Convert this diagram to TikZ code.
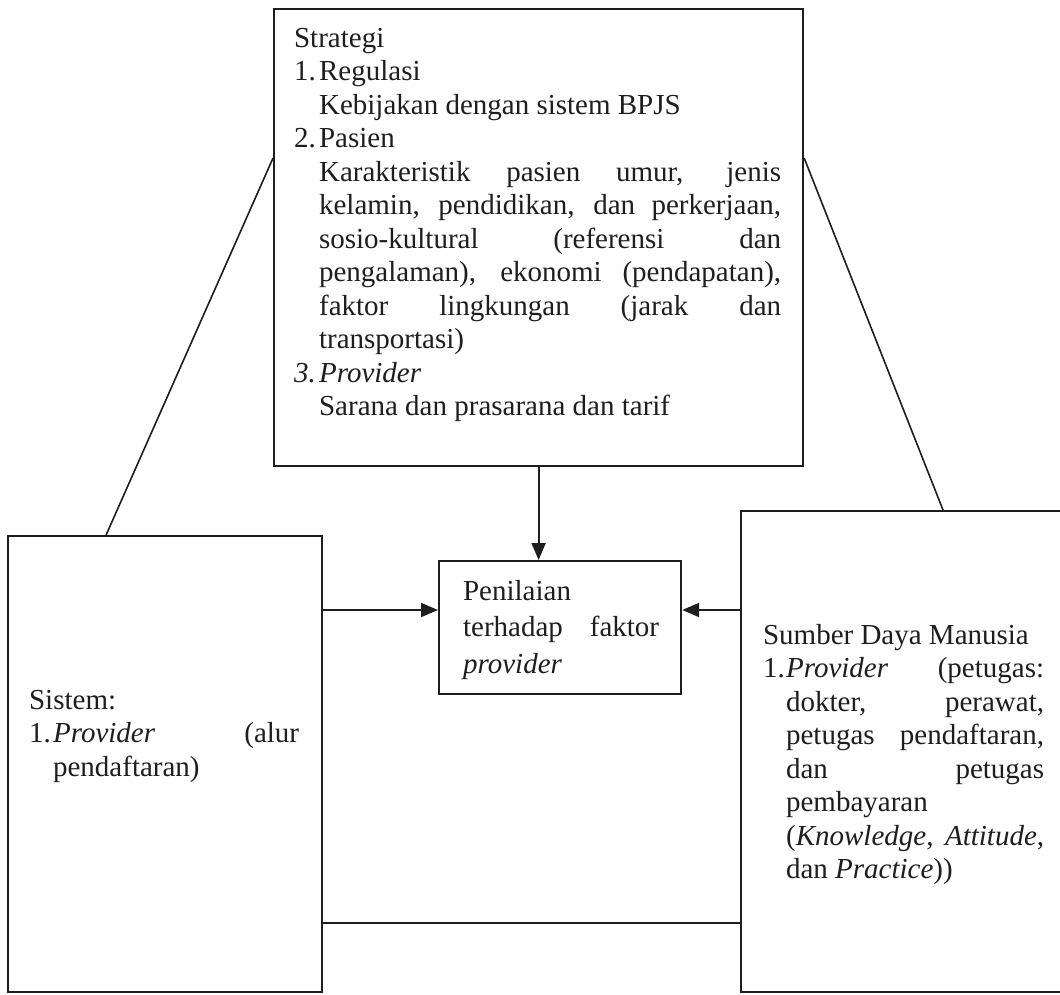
\documentclass[tikz,border=0pt]{standalone}
\usepackage{fontspec}
\setmainfont{Liberation Serif}
\usetikzlibrary{arrows.meta}
\newlength{\indw}
\newcommand{\itm}[2]{\noindent\makebox[\indw][l]{#1}#2\par}
\newcommand{\itmj}[2]{\noindent\makebox[\indw][l]{#1}\makebox[\dimexpr\linewidth-\indw\relax][s]{#2}\par}
\newcommand{\jst}[1]{\noindent\hspace*{\indw}\makebox[\dimexpr\linewidth-\indw\relax][s]{#1}\par}
\newcommand{\lft}[1]{\noindent\hspace*{\indw}#1\par}
\newcommand{\firstln}[2]{\noindent\rule{0pt}{#1}#2\par}
\definecolor{ink}{HTML}{1E1E1E}
\begin{document}
\begin{tikzpicture}[x=1pt,y=-1pt,
  box/.style={draw=ink, text=ink, line width=2.2pt, inner sep=0pt, anchor=north west,
    font=\fontsize{29}{33.5}\selectfont},
  conn/.style={draw=ink, line width=1.9pt},
  diag/.style={draw=ink, line width=1.6pt},
  arr/.style={conn, -{Triangle[length=17pt,width=14pt]}}]
\clip (0,0) rectangle (1060,994);
\fill[white] (0,0) rectangle (1060,994);
% top box
\node[box] (strat) at (273,8) {\hspace*{20pt}\parbox[c][457pt][t]{487pt}{\setlength{\indw}{25pt}%
\firstln{38pt}{Strategi}%
\itm{1.}{Regulasi}%
\lft{Kebijakan dengan sistem BPJS}%
\itm{2.}{Pasien}%
\jst{Karakteristik pasien umur, jenis}%
\jst{kelamin, pendidikan, dan perkerjaan,}%
\jst{sosio-kultural (referensi dan}%
\jst{pengalaman), ekonomi (pendapatan),}%
\jst{faktor lingkungan (jarak dan}%
\lft{transportasi)}%
\itm{\textit{3.}}{\textit{Provider}}%
\lft{Sarana dan prasarana dan tarif}}\hspace*{22pt}};
% centre box
\node[box] (pen) at (438,560) {\hspace*{24pt}\parbox[c][133pt][t]{196pt}{\fontsize{29}{36.5}\selectfont\setlength{\indw}{0pt}%
\firstln{39pt}{Penilaian}%
\jst{terhadap faktor}%
\lft{\textit{provider}}}\hspace*{22pt}};
% left box
\node[box] (sis) at (7,535) {\hspace*{21pt}\parbox[c][456pt][t]{270pt}{\setlength{\indw}{24pt}%
\firstln{173pt}{Sistem:}%
\itmj{1.}{\textit{Provider} (alur}%
\lft{pendaftaran)}}\hspace*{23pt}};
% right box
\node[box] (sdm) at (740,510) {\hspace*{22pt}\parbox[c][481pt][t]{281pt}{\setlength{\indw}{23pt}%
\firstln{133pt}{Sumber Daya Manusia}%
\itmj{1.}{\textit{Provider} (petugas:}%
\jst{dokter, perawat,}%
\jst{petugas pendaftaran,}%
\jst{dan petugas}%
\lft{pembayaran}%
\jst{(\textit{Knowledge}, \textit{Attitude},}%
\lft{dan \textit{Practice}))}}\hspace*{32pt}};
% connectors
\coordinate (ay) at (0,610);
\coordinate (by) at (0,923);
\draw[arr] (strat.south) -- (strat.south |- pen.north);
\draw[arr] (sis.east |- ay) -- (pen.west |- ay);
\draw[arr] (sdm.west |- ay) -- (pen.east |- ay);
\draw[conn] (sis.east |- by) -- (sdm.west |- by);
\draw[diag] ([yshift=79.5pt]strat.west) -- ([xshift=-59pt]sis.north);
\draw[diag] ([yshift=79.5pt]strat.east) -- ([xshift=203pt]sdm.north west);
\end{tikzpicture}
\end{document}
